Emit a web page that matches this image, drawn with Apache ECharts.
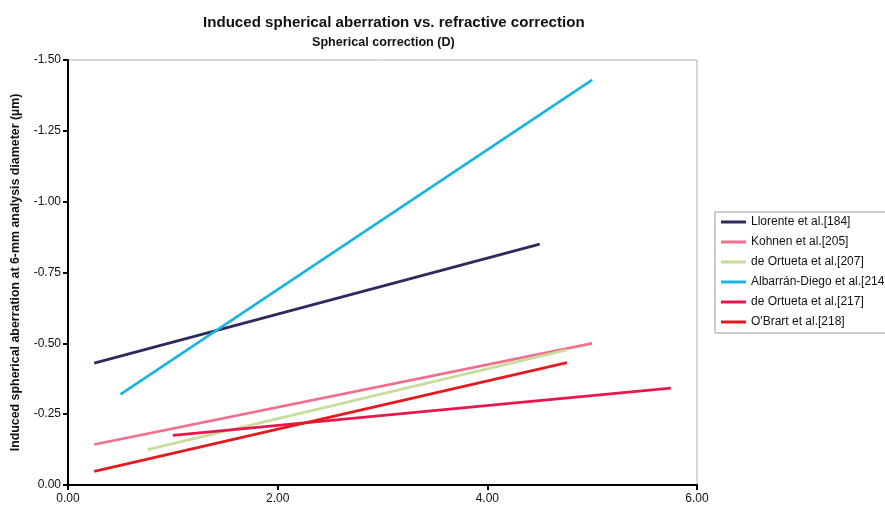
<!DOCTYPE html>
<html>
<head>
<meta charset="utf-8">
<script src="https://cdn.jsdelivr.net/npm/echarts@6/dist/echarts.min.js"></script>
<style>
  html, body { margin: 0; padding: 0; background: #ffffff; }
  #chart { width: 885px; height: 509px; }
</style>
</head>
<body>
<div id="chart"></div>
<script>
// Study names (legend order)
const studyNames = [
  'Llorente et al.[184]',
  'Kohnen et al.[205]',
  'de Ortueta et al.[207]',
  'Albarrán-Diego et al.[214]',
  'de Ortueta et al.[217]',
  "O'Brart et al.[218]"
];

// Spherical correction (D) at the start and end of each regression line
const correctionLlorente = [0.25, 4.50];
const correctionKohnen   = [0.25, 5.00];
const correctionOrt207   = [0.76, 4.76];
const correctionAlbarran = [0.50, 5.00];
const correctionOrt217   = [1.00, 5.75];
const correctionOBrart   = [0.25, 4.76];

// Induced spherical aberration (µm) at those corrections
const aberrationLlorente = [-0.43, -0.85];
const aberrationKohnen   = [-0.143, -0.50];
const aberrationOrt207   = [-0.125, -0.477];
const aberrationAlbarran = [-0.32, -1.43];
const aberrationOrt217   = [-0.175, -0.342];
const aberrationOBrart   = [-0.048, -0.432];

// Axis ticks
const xTicks = [0, 2, 4, 6];
const yTicks = [-1.5, -1.25, -1.0, -0.75, -0.5, -0.25, 0];

const seriesColors = ['#2c2a5e', '#f26d8e', '#c6dd9c', '#1ab4e4', '#e8164c', '#e31b1f'];

const correctionSets = [correctionLlorente, correctionKohnen, correctionOrt207,
                        correctionAlbarran, correctionOrt217, correctionOBrart];
const aberrationSets = [aberrationLlorente, aberrationKohnen, aberrationOrt207,
                        aberrationAlbarran, aberrationOrt217, aberrationOBrart];

const font = '"Liberation Sans", Arial, sans-serif';

const chart = echarts.init(document.getElementById('chart'), null, { renderer: 'canvas' });

chart.setOption({
  backgroundColor: '#ffffff',
  animation: false,
  title: [
    {
      text: 'Induced spherical aberration vs. refractive correction',
      left: 198, top: 10,
      textStyle: { fontFamily: font, fontSize: 15.1, fontWeight: 'bold', color: '#111' }
    },
    {
      text: 'Spherical correction (D)',
      left: 307, top: 31,
      textStyle: { fontFamily: font, fontSize: 12.6, fontWeight: 'bold', color: '#111' }
    }
  ],
  grid: {
    left: 68, right: 188, top: 60, bottom: 24,
    show: true, borderColor: '#b8b0a8', borderWidth: 1, backgroundColor: '#ffffff'
  },
  legend: {
    orient: 'vertical',
    left: 715, top: 212,
    padding: [3, 40, 4, 6],
    itemGap: 6,
    itemWidth: 25, itemHeight: 3,
    icon: 'rect',
    borderColor: '#9a9a9a', borderWidth: 1,
    backgroundColor: '#ffffff',
    textStyle: { fontFamily: font, fontSize: 12, color: '#111', lineHeight: 14 },
    data: studyNames
  },
  xAxis: {
    type: 'value',
    min: xTicks[0], max: xTicks[xTicks.length - 1], interval: 2,
    axisLine: { lineStyle: { color: '#000', width: 2 } },
    axisTick: { show: true, length: 5, lineStyle: { color: '#000', width: 2 } },
    splitLine: { show: false },
    axisLabel: {
      fontFamily: font, fontSize: 12, color: '#111', margin: 8,
      formatter: v => v.toFixed(2)
    }
  },
  yAxis: {
    type: 'value',
    inverse: true,
    min: yTicks[0], max: yTicks[yTicks.length - 1], interval: 0.25,
    name: 'Induced spherical aberration at 6-mm analysis diameter (µm)',
    nameLocation: 'middle',
    nameGap: 46,
    nameTextStyle: { fontFamily: font, fontSize: 12.4, fontWeight: 'bold', color: '#111' },
    axisLine: { lineStyle: { color: '#000', width: 2 } },
    axisTick: { show: true, length: 5, lineStyle: { color: '#000', width: 2 } },
    splitLine: { show: false },
    axisLabel: {
      fontFamily: font, fontSize: 12, color: '#111', margin: 7,
      formatter: v => v.toFixed(2)
    }
  },
  series: studyNames.map((name, i) => ({
    name: name,
    type: 'line',
    showSymbol: false,
    symbol: 'none',
    color: seriesColors[i],
    lineStyle: { width: 2.7, color: seriesColors[i] },
    data: correctionSets[i].map((x, k) => [x, aberrationSets[i][k]])
  }))
});
</script>
</body>
</html>
